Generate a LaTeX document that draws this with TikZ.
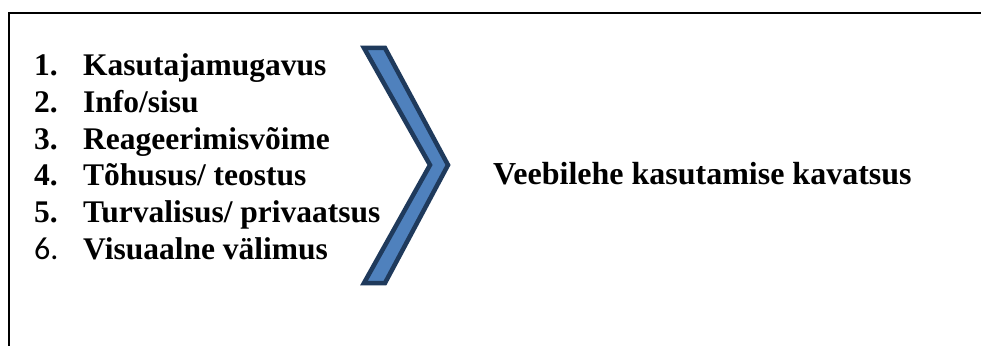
\documentclass[tikz,border=0pt]{standalone}
\usepackage{fontspec}
\setmainfont{Liberation Serif}
\newfontfamily\calib{Carlito}
\definecolor{chevfill}{HTML}{4F81BD}
\definecolor{chevline}{HTML}{1F3A5C}
\begin{document}
\begin{tikzpicture}[x=1pt,y=-1pt,
  item/.style={anchor=base west,inner sep=0pt,font=\fontsize{31.5}{36}\selectfont\bfseries},
  numb/.style={anchor=base west,inner sep=0pt,font=\fontsize{31.5}{36}\selectfont\bfseries},
  frameline/.style={line width=2.2pt,black},
  chevron/.style={fill=chevfill,draw=chevline,line width=4.5pt,line join=miter}]
\useasboundingbox (0,0) rectangle (981,345);
\fill[white] (0,0) rectangle (981,345);
\draw[frameline] (9,346) -- (9,13) -- (982,13);
% chevron
\draw[chevron] (364,48) -- (385,48) -- (448,165) -- (385,283) -- (364,283) -- (430,165) -- cycle;
% list
\node[numb] (n1) at (34,75) {1.};
\node[item] (t1) at (83,75) {Kasutajamugavus};
\node[numb] (n2) at (34,112) {2.};
\node[item] (t2) at (83,112) {Info/sisu};
\node[numb] (n3) at (34,149) {3.};
\node[item] (t3) at (83,149) {Reageerimisvõime};
\node[numb] (n4) at (34,185) {4.};
\node[item] (t4) at (83,185) {Tõhusus/ teostus};
\node[numb] (n5) at (34,222) {5.};
\node[item] (t5) at (83,222) {Turvalisus/ privaatsus};
\node[anchor=base west,inner sep=0pt,font=\fontsize{32}{36}\selectfont\calib] (n6) at (34,259) {6.};
\node[item] (t6) at (83,259) {Visuaalne välimus};
\node[item,font=\fontsize{32}{36}\selectfont\bfseries] (goal) at (493,184) {Veebilehe kasutamise kavatsus};
\end{tikzpicture}
\end{document}
